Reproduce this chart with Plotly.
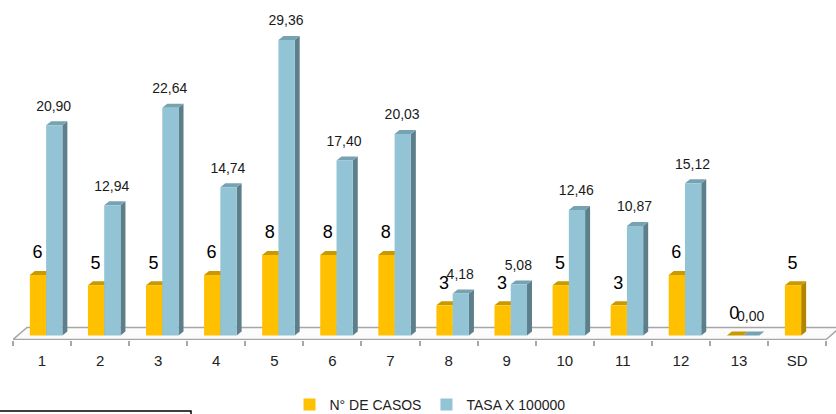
import plotly.graph_objects as go

categories = ["1", "2", "3", "4", "5", "6", "7", "8", "9", "10", "11", "12", "13", "SD"]
casos = [6, 5, 5, 6, 8, 8, 8, 3, 3, 5, 3, 6, 0, 5]
tasa = [20.90, 12.94, 22.64, 14.74, 29.36, 17.40, 20.03, 4.18, 5.08, 12.46, 10.87, 15.12, 0.00, None]
series_names = ["N° DE CASOS", "TASA X 100000"]

# styling
W, H = 836, 414
ML, MR, MT, MB = 13, 0, 10, 74
PX_PER_CAT = 58.08
PX_PER_UNIT = 10.08
plot_w = W - ML - MR
plot_h = H - MT - MB
x0 = -0.5
x1 = x0 + plot_w / PX_PER_CAT
zero_px = 336
y_top = (zero_px - MT) / PX_PER_UNIT
y_bot = -(H - MB - zero_px) / PX_PER_UNIT - 0.05

BW = 0.28
OFF_Y = -0.21
OFF_B = 0.07
DX = 5 / PX_PER_CAT
DY = 4 / PX_PER_UNIT

YEL = "#FFC000"; YEL_TOP = "#C99A00"; YEL_SIDE = "#B08600"
BLU = "#93C4D6"; BLU_TOP = "#76A2B2"; BLU_SIDE = "#5D7F8B"
FONT = "Liberation Sans, Arial, sans-serif"

xs = list(range(len(categories)))
fig = go.Figure()
shapes = []

# floor
FDX = 14 / PX_PER_CAT
f_front = -4 / PX_PER_UNIT
f_back = 8 / PX_PER_UNIT
xe = len(categories) - 0.5
shapes.append(dict(type="path", xref="x", yref="y", layer="below",
                   path=f"M {-0.5} {f_front} L {xe} {f_front} L {xe + FDX} {f_back} L {-0.5 + FDX} {f_back} Z",
                   fillcolor="#FBFBFB", line=dict(color="#A6A6A6", width=1.5)))


def faces(xl, v, top, side):
    xr = xl + BW
    s = []
    s.append(dict(type="path", xref="x", yref="y", layer="below",
                  path=f"M {xr} 0 L {xr + DX} {DY} L {xr + DX} {v + DY} L {xr} {v} Z",
                  fillcolor=side, line=dict(width=0)))
    s.append(dict(type="path", xref="x", yref="y", layer="below",
                  path=f"M {xl} {v} L {xr} {v} L {xr + DX} {v + DY} L {xl + DX} {v + DY} Z",
                  fillcolor=top, line=dict(width=0)))
    return s


for i, v in enumerate(casos):
    if v is not None:
        shapes += faces(i + OFF_Y, v, YEL_TOP, YEL_SIDE)
for i, v in enumerate(tasa):
    if v is not None:
        shapes += faces(i + OFF_B, v, BLU_TOP, BLU_SIDE)

fig.add_trace(go.Bar(x=xs, y=casos, name=series_names[0], width=BW, offset=OFF_Y,
                     marker=dict(color=YEL, line=dict(width=0))))
fig.add_trace(go.Bar(x=xs, y=tasa, name=series_names[1], width=BW, offset=OFF_B,
                     marker=dict(color=BLU, line=dict(width=0))))

# data labels
fig.add_trace(go.Scatter(x=[i - 0.08 for i in xs], y=[v + 2.1 for v in casos],
                         text=[str(v) for v in casos], mode="text", showlegend=False,
                         textfont=dict(family=FONT, size=18, color="#000000"),
                         hoverinfo="skip", cliponaxis=False))
tx = [i + 0.2 for i, v in zip(xs, tasa) if v is not None]
ty = [v + 1.8 for v in tasa if v is not None]
tt = [f"{v:.2f}".replace(".", ",") for v in tasa if v is not None]
fig.add_trace(go.Scatter(x=tx, y=ty, text=tt, mode="text", showlegend=False,
                         textfont=dict(family=FONT, size=14, color="#1a1a1a"),
                         hoverinfo="skip", cliponaxis=False))

# partial box at bottom-left
def px_x(p):
    return (p - ML) / plot_w

def px_y(p):
    return (H - MB - p) / plot_h

shapes.append(dict(type="rect", xref="paper", yref="paper",
                   x0=px_x(-5), x1=px_x(191), y0=px_y(411), y1=px_y(425),
                   line=dict(color="#000000", width=1.5), fillcolor="rgba(0,0,0,0)"))

fig.update_layout(
    width=W, height=H,
    margin=dict(l=ML, r=MR, t=MT, b=MB, autoexpand=False),
    barmode="overlay",
    plot_bgcolor="white", paper_bgcolor="white",
    shapes=shapes,
    showlegend=True,
    legend=dict(orientation="h", x=px_x(430), xanchor="center", y=px_y(405), yanchor="middle",
                font=dict(family=FONT, size=14, color="#222222"),
                itemwidth=30, tracegroupgap=0, traceorder="normal"),
    xaxis=dict(range=[x0, x1], tickmode="array", tickvals=xs, ticktext=categories,
               ticks="", showgrid=False, zeroline=False, showline=False, automargin=False,
               ticklabelstandoff=10,
               tickfont=dict(family=FONT, size=15, color="#222222"),
               minor=dict(tickmode="array", tickvals=[i - 0.5 for i in range(len(categories) + 1)],
                          ticks="outside", ticklen=5, tickcolor="#A6A6A6", tickwidth=1.5, showgrid=False)),
    yaxis=dict(range=[y_bot, y_top], visible=False, showgrid=False, zeroline=False, automargin=False),
)

fig.write_html("out.html", config={"displayModeBar": False},
               post_script="document.body.style.margin='0';document.body.style.padding='0';"
                           "document.documentElement.style.overflow='hidden';")
